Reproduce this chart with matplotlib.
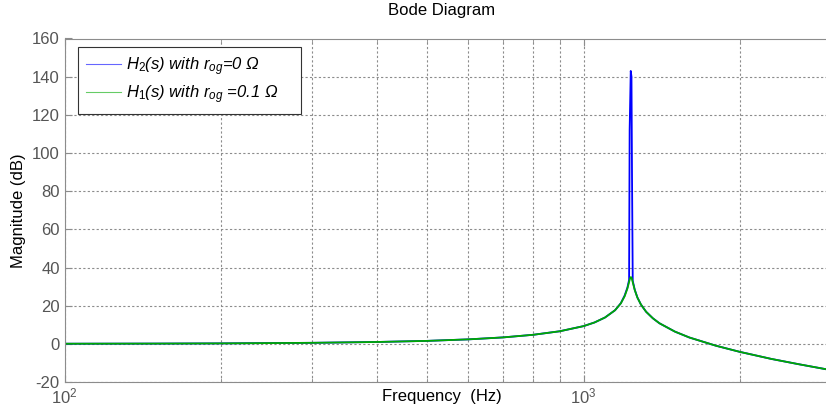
import matplotlib.pyplot as plt
from matplotlib.ticker import FixedLocator, NullFormatter

plt.rcParams['font.family'] = ['Liberation Sans', 'DejaVu Sans']
plt.rcParams['mathtext.fontset'] = 'custom'
plt.rcParams['mathtext.rm'] = 'Liberation Sans'
plt.rcParams['mathtext.it'] = 'Liberation Sans:italic'
plt.rcParams['axes.unicode_minus'] = False

# values (Hz, dB)
freq = [100, 150, 200, 300, 400, 500, 600, 700, 800, 900, 1000, 1050, 1100,
        1150, 1180, 1200, 1215, 1225, 1230, 1234, 1238, 1245, 1255, 1270,
        1290, 1320, 1360, 1400, 1500, 1600, 1800, 2000, 2300, 2600, 3000]
mag_h1 = [0.06, 0.13, 0.23, 0.53, 0.97, 1.55, 2.34, 3.37, 4.74, 6.59, 9.28,
          11.2, 13.8, 17.6, 21.2, 24.9, 29.0, 32.8, 34.5, 35.0, 34.5, 31.9,
          28.2, 24.2, 20.6, 16.8, 13.4, 10.8, 6.4, 3.3, -1.0, -4.2, -7.9,
          -10.7, -13.8]

freq_h2 = [100, 150, 200, 300, 400, 500, 600, 700, 800, 900, 1000, 1050, 1100,
           1150, 1180, 1200, 1215, 1224, 1227, 1233, 1237, 1240, 1244, 1255,
           1270, 1290, 1320, 1360, 1400, 1500, 1600, 1800, 2000, 2300, 2600,
           3000]
mag_h2 = [0.06, 0.13, 0.23, 0.53, 0.97, 1.55, 2.34, 3.37, 4.74, 6.59, 9.28,
          11.2, 13.8, 17.6, 21.3, 25.3, 29.5, 33.5, 112.0, 143.0, 140.0, 88.0,
          33.0, 28.4, 24.3, 20.6, 16.8, 13.4, 10.8, 6.4, 3.3, -1.0, -4.2,
          -7.9, -10.7, -13.8]

yticks = list(range(-20, 161, 20))

W, H = 826, 416
fig = plt.figure(figsize=(W / 100, H / 100), dpi=100)
ax = fig.add_axes([64.5 / W, 34 / H, (W - 64.5) / W, 343.5 / H])

ax.plot(freq_h2, mag_h2, color='#0000ff', lw=1.3,
        label=r'$\mathit{H_2}$(s) with $\mathit{r_{og}}$=0 Ω')
ax.plot(freq, mag_h1, color='#00aa00', lw=1.3,
        label=r'$\mathit{H_1}$(s) with $\mathit{r_{og}}$ =0.1 Ω    ')

ax.set_xscale('log')
ax.set_xlim(100, 2932)
ax.set_ylim(-20, 160)
ax.set_yticks(yticks)
ax.set_xticks([100, 1000])
ax.set_xticklabels([r'$10^2$', r'$10^3$'])
ax.xaxis.set_minor_locator(FixedLocator([200, 300, 400, 500, 600, 700, 800,
                                         900, 2000]))
ax.xaxis.set_minor_formatter(NullFormatter())

ax.grid(True, which='both', color='#8c8c8c', linestyle=(0, (2, 2)), lw=0.8)
for s in ['left', 'bottom', 'top']:
    ax.spines[s].set_color('#8c8c8c')
ax.spines['right'].set_visible(False)
ax.tick_params(which='both', direction='in', colors='#8c8c8c',
               labelcolor='#555555', labelsize=12, top=True)
ax.tick_params(which='major', length=5)
ax.tick_params(which='minor', length=3)

ax.set_ylabel('Magnitude (dB)', fontsize=12, color='black', labelpad=4)
fig.text(442 / W, 1 - 397 / H, 'Frequency  (Hz)', fontsize=12,
         ha='center', va='center')
fig.text(442 / W, 1 - 10 / H, 'Bode Diagram', fontsize=12,
         ha='center', va='center')

leg = ax.legend(loc='upper left', bbox_to_anchor=(0.0177, 0.975),
                prop={'style': 'italic', 'size': 12}, fancybox=False,
                edgecolor='#333333', framealpha=1, borderaxespad=0,
                handlelength=2.1, handletextpad=0.3, labelspacing=0.3,
                borderpad=0.5)
leg.get_frame().set_linewidth(0.8)
for ln in leg.get_lines():
    ln.set_linewidth(0.8)
    ln.set_alpha(0.6)

fig.savefig('out.png', dpi=100)
